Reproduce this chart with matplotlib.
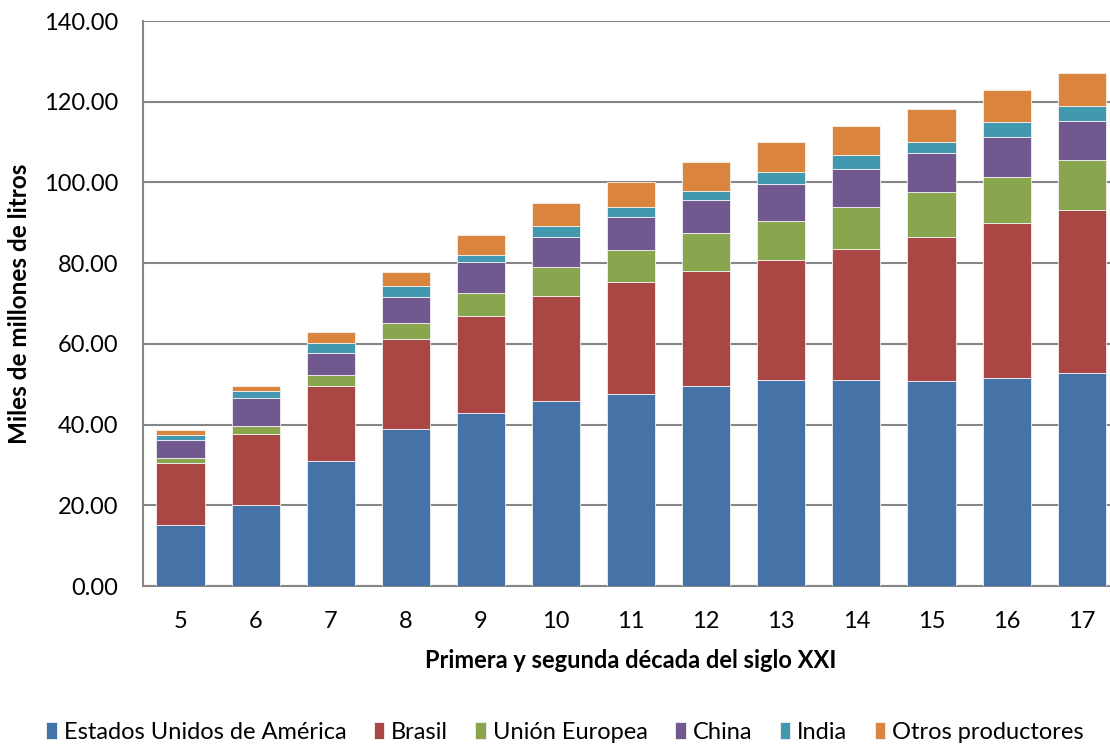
import matplotlib
matplotlib.use("Agg")
import matplotlib.pyplot as plt
import numpy as np

plt.rcParams['font.family'] = ['Lato', 'DejaVu Sans']

years = ["5", "6", "7", "8", "9", "10", "11", "12", "13", "14", "15", "16", "17"]

series_names = ["Estados Unidos de América", "Brasil", "Unión Europea",
                "China", "India", "Otros productores"]

usa = [15.0, 20.0, 30.9, 38.8, 42.9, 45.8, 47.7, 49.6, 51.0, 51.0, 50.7, 51.5, 52.8]
brasil = [15.4, 17.7, 18.7, 22.3, 23.9, 26.0, 27.6, 28.4, 29.9, 32.4, 35.9, 38.4, 40.4]
ue = [1.3, 1.9, 2.7, 4.1, 5.7, 7.2, 8.0, 9.5, 9.6, 10.5, 11.0, 11.4, 12.3]
china = [4.6, 6.9, 5.5, 6.4, 7.9, 7.6, 8.2, 8.1, 9.2, 9.4, 9.8, 10.0, 9.6]
india = [1.1, 1.7, 2.5, 2.7, 1.6, 2.6, 2.4, 2.3, 3.0, 3.6, 2.7, 3.6, 3.8]
otros = [1.3, 1.4, 2.6, 3.5, 4.9, 5.8, 6.1, 7.1, 7.2, 7.1, 8.0, 8.1, 8.1]

colors = ["#4572A7", "#AA4643", "#89A54E", "#71588F", "#4198AF", "#DB843D"]

fig = plt.figure(figsize=(11.1, 7.45), dpi=100)
# plot area runs slightly past the right edge of the canvas
ax = fig.add_axes([0.1288, 0.2134, 0.8795, 0.7584])

x = np.arange(len(years))
bottom = np.zeros(len(years))
for name, vals, col in zip(series_names, [usa, brasil, ue, china, india, otros], colors):
    vals = np.array(vals)
    ax.bar(x, vals, bottom=bottom, width=0.64, color=col, label=name,
           edgecolor="#f2f2f2", linewidth=0.6, zorder=3)
    bottom += vals

ax.set_xlim(-0.5, len(years) - 0.5)
ax.set_ylim(0, 140)
ax.set_yticks(np.arange(0, 141, 20))
ax.set_yticklabels([f"{v:.2f}" for v in np.arange(0, 141, 20)])
ax.set_xticks(x)
ax.set_xticklabels(years)

ax.yaxis.grid(True, color="#868686", linewidth=1.5, zorder=0)
ax.set_axisbelow(True)
for side in ["top", "right"]:
    ax.spines[side].set_visible(False)
for side in ["left", "bottom"]:
    ax.spines[side].set_color("#868686")
    ax.spines[side].set_linewidth(1.5)

ax.tick_params(axis="both", length=0, labelsize=17, colors="black")
ax.tick_params(axis="y", pad=18)
ax.tick_params(axis="x", pad=18)

ax.set_ylabel("Miles de millones de litros", fontsize=17.5, fontweight="bold", labelpad=9)
ax.set_xlabel("Primera y segunda década del siglo XXI", fontsize=17, fontweight="bold", labelpad=12)

fig.legend(loc="center", bbox_to_anchor=(0.509, 0.017), ncol=6, frameon=False,
           fontsize=17, handlelength=0.45, handleheight=0.75, handletextpad=0.3,
           columnspacing=1.15)

fig.savefig("out.png", dpi=100)
